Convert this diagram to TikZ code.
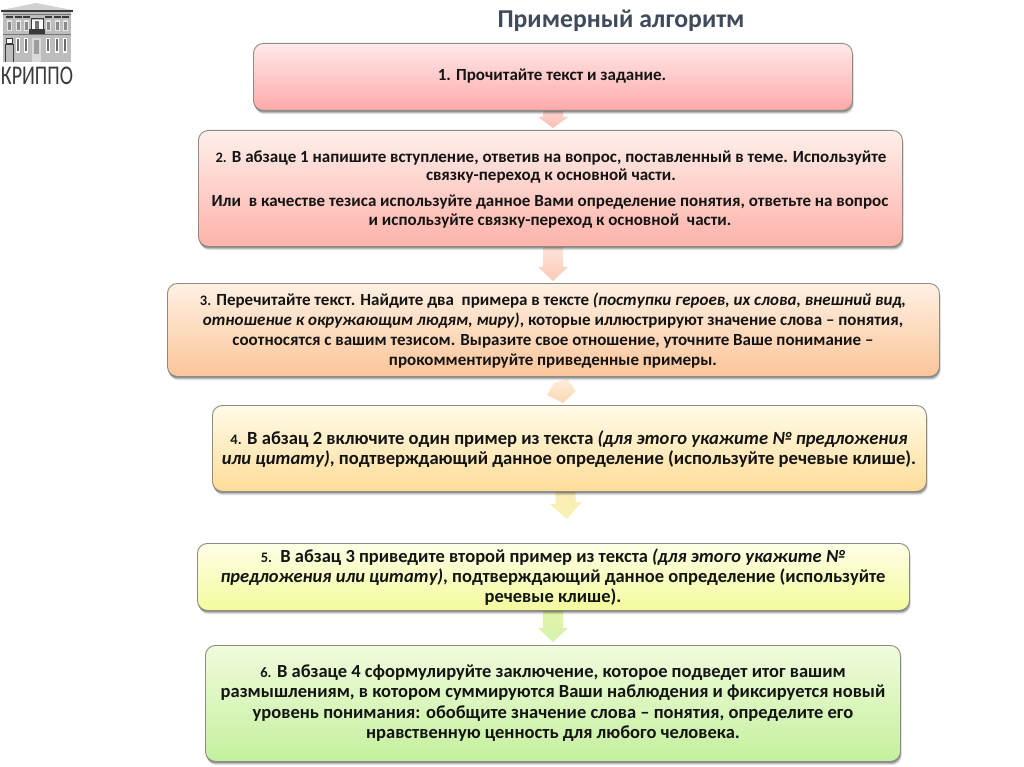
\documentclass[tikz,border=0pt]{standalone}
\usepackage{fontspec}
\setmainfont{Carlito}
\usetikzlibrary{shadows,calc}
\definecolor{ink}{HTML}{141414}
\definecolor{titlec}{HTML}{3F4A5A}
\definecolor{edge}{HTML}{8C8C82}
\definecolor{logo}{HTML}{BDBDBD}
\definecolor{logod}{HTML}{3A3A3A}
\definecolor{aAt}{HTML}{FCD5D0}\definecolor{aAb}{HTML}{FDBDB6}
\definecolor{aBt}{HTML}{FDE4DC}\definecolor{aBb}{HTML}{FBC9B4}
\definecolor{aCt}{HTML}{FDEEDD}\definecolor{aCb}{HTML}{FCD7AE}
\definecolor{aDt}{HTML}{FBEBB8}\definecolor{aDb}{HTML}{F8F3B0}
\definecolor{aEt}{HTML}{E4F4A8}\definecolor{aEb}{HTML}{D6F3AE}
\definecolor{bAt}{HTML}{FFE9E9}\definecolor{bAb}{HTML}{FFA9A9}
\definecolor{bBt}{HTML}{FFEEEA}\definecolor{bBb}{HTML}{FDB3AA}
\definecolor{bCt}{HTML}{FFF0E2}\definecolor{bCb}{HTML}{FBC59A}
\definecolor{bDt}{HTML}{FFFBE8}\definecolor{bDb}{HTML}{FEDC98}
\definecolor{bEt}{HTML}{FEFEE6}\definecolor{bEb}{HTML}{F3FB9C}
\definecolor{bFt}{HTML}{F0FBDC}\definecolor{bFb}{HTML}{C4F09E}
\tikzset{
  softshadow/.style={drop shadow={shadow xshift=0pt,shadow yshift=-1pt,fill=black,opacity=0.2},
    drop shadow={shadow xshift=0.5pt,shadow yshift=-2pt,fill=black,opacity=0.2},
    drop shadow={shadow xshift=1pt,shadow yshift=-3pt,fill=black,opacity=0.15},
    drop shadow={shadow xshift=1.5pt,shadow yshift=-4pt,fill=black,opacity=0.08}},
  stepbox/.style={draw=edge,line width=0.9pt,rounded corners=10pt,inner sep=0pt,anchor=north west,softshadow},
  txt/.style={font=\bfseries\fontsize{#1}{19.8}\selectfont,text=ink,align=center,inner sep=0pt},
  dark/.style={fill=logod,draw=none},
  pale/.style={fill=white,draw=none}
}
\newcommand{\sm}[1]{{\fontsize{14.5}{19}\selectfont #1}}
% \blockarrow{cx}{top}{head start}{half shaft}{half head}{tip}{top colour}{bottom colour}
\newcommand{\blockarrow}[8]{\path[top color=#7,bottom color=#8]
  (#1-#4,#2) -- (#1+#4,#2) -- (#1+#4,#3) -- (#1+#5,#3) -- (#1,#6) -- (#1-#5,#3) -- (#1-#4,#3) -- cycle;}
\begin{document}
\begin{tikzpicture}[x=1pt,y=-1pt]
\useasboundingbox (0,0) rectangle (1024,767);
\fill[white] (0,0) rectangle (1024,767);
% logo
\fill[logo!70] (2,10) -- (36,3) -- (72,10) -- cycle;
\fill[logo] (3,12) rectangle (71,62);
\fill[dark] (1,10) rectangle (73,12);
\fill[logod!70] (3,14) rectangle (71,15);
\fill[logod!70] (3,34) rectangle (71,35.5);
\foreach \x in {7,16,24,46,55,63}{
  \fill[white!90!black] (\x,20) rectangle +(5,11);
  \fill[logod!60] (\x+1,22) rectangle +(3,8);
  \fill[dark] (\x-1,16) rectangle +(7,2);
}
\foreach \x in {16,24,46,55,63}{
  \fill[white] (\x,38) rectangle +(4,15);
  \fill[logod!75] (\x+1,39) rectangle +(2,12);
}
\fill[white] (31,20) rectangle (43,29);
\draw[logod,line width=0.8pt] (31,29) -- (31,18) -- (43,18) -- (43,29);
\fill[logod!70] (35,21) rectangle (39,29);
\fill[dark] (29,29) rectangle (45,34);
\fill[white!85!black] (32,38) rectangle (41,62);
\fill[logod!50] (34,40) rectangle (39,54);
\draw[logod,line width=0.7pt] (5,62) -- (5,44) -- (13,44) -- (13,62);
\fill[pale] (6,38) rectangle (12,43);
\draw[logod,line width=0.7pt] (6,38) rectangle (12,43);
\node[font=\fontsize{27}{27}\selectfont,text=logod,xscale=0.74,inner sep=0pt,anchor=center] (logotext) at (37,76) {КРИППО};
% title
\node[font=\bfseries\fontsize{25.7}{26}\selectfont,text=titlec,inner sep=0pt] (title) at (621,21) {Примерный алгоритм};
% arrows (behind boxes)
\blockarrow{553}{110}{117}{10}{15}{128}{aAt}{aAb}
\blockarrow{553}{246}{267}{10}{15}{281}{aBt}{aBb}
\path[top color=aCt,bottom color=aCb] (554,383) -- (567,379) -- (576,391) -- (563,403) -- (547,395) -- cycle;
\begin{scope}[rotate around={3.5:(566,505)}]
\blockarrow{566}{489}{503}{10}{16}{519}{aDt}{aDb}
\end{scope}
\blockarrow{553}{610}{628}{10}{15}{642}{aEt}{aEb}
% boxes
\node[stepbox,minimum width=599pt,minimum height=67pt,top color=bAt,bottom color=bAb] (b1) at (253,43) {};
\node[stepbox,minimum width=704pt,minimum height=116pt,top color=bBt,bottom color=bBb] (b2) at (198,130) {};
\node[stepbox,minimum width=772pt,minimum height=93pt,top color=bCt,bottom color=bCb] (b3) at (167,283) {};
\node[stepbox,minimum width=714pt,minimum height=86pt,top color=bDt,bottom color=bDb] (b4) at (212,405) {};
\node[stepbox,minimum width=712pt,minimum height=67pt,top color=bEt,bottom color=bEb] (b5) at (197,543) {};
\node[stepbox,minimum width=695pt,minimum height=116pt,top color=bFt,bottom color=bFb] (b6) at (205,645) {};
% texts
\node[txt=17] (t1) at (552,76) {1. Прочитайте текст и задание.};
\node[txt=17,font=\bfseries\fontsize{17}{18}\selectfont] (t2a) at (551,167) {\sm{2.} В абзаце 1 напишите вступление, ответив на вопрос, поставленный в теме. Используйте\\связку-переход к основной части.};
\node[txt=17] (t2b) at (550,211.5) {Или\ \ в качестве тезиса используйте данное Вами определение понятия, ответьте на вопрос\\и используйте связку-переход к основной\ \ части.};
\node[txt=17] (t3) at (553,330.5) {\sm{3.} Перечитайте текст. Найдите два\ \ примера в тексте \textit{(поступки героев, их слова, внешний вид,}\\\textit{отношение к окружающим людям, миру)}, которые иллюстрируют значение слова – понятия,\\соотносятся с вашим тезисом. Выразите свое отношение, уточните Ваше понимание –\\прокомментируйте приведенные примеры.};
\node[txt=18.6] (t4) at (569,449) {\sm{4.} В абзац 2 включите один пример из текста \textit{(для этого укажите № предложения}\\\textit{или цитату)}, подтверждающий данное определение (используйте речевые клише).};
\node[txt=18.5] (t5) at (553,577) {\sm{5.}\ \ В абзац 3 приведите второй пример из текста \textit{(для этого укажите №}\\\textit{предложения или цитату)}, подтверждающий данное определение (используйте\\речевые клише).};
\node[txt=18.5,font=\bfseries\fontsize{18.5}{20.4}\selectfont] (t6) at (553,703) {\sm{6.} В абзаце 4 сформулируйте заключение, которое подведет итог вашим\\размышлениям, в котором суммируются Ваши наблюдения и фиксируется новый\\уровень понимания: обобщите значение слова – понятия, определите его\\нравственную ценность для любого человека.};
\end{tikzpicture}
\end{document}
